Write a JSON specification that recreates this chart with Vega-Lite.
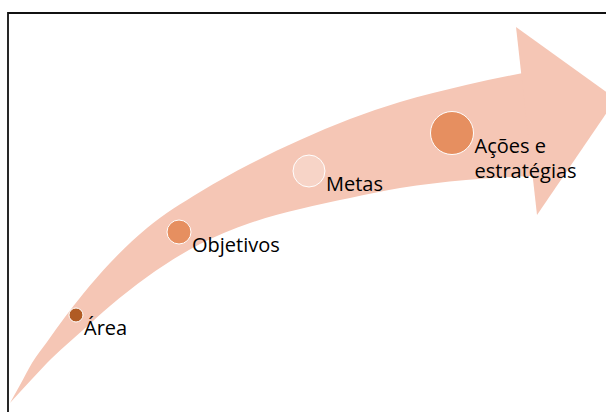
{
  "$schema": "https://vega.github.io/schema/vega-lite/v6.json",
  "autosize": {"type": "fit", "contains": "padding"},
  "width": 606,
  "height": 412,
  "padding": 0,
  "background": "white",
  "config": {"view": {"stroke": null}},
  "datasets": {
    "shaft": [
      {"x": 10, "upper": 403, "lower": 403},
      {"x": 20, "upper": 385, "lower": 392},
      {"x": 32, "upper": 363, "lower": 379},
      {"x": 47, "upper": 342, "lower": 363},
      {"x": 65, "upper": 317, "lower": 346},
      {"x": 83, "upper": 294, "lower": 330},
      {"x": 110, "upper": 263, "lower": 306},
      {"x": 147, "upper": 228, "lower": 277},
      {"x": 200, "upper": 192, "lower": 244},
      {"x": 250, "upper": 164, "lower": 223},
      {"x": 300, "upper": 140, "lower": 209},
      {"x": 350, "upper": 119, "lower": 198},
      {"x": 400, "upper": 102, "lower": 188},
      {"x": 466, "upper": 85, "lower": 180},
      {"x": 533, "upper": 71, "lower": 176}
    ],
    "head": [
      {"i": 1, "x": 516, "y": 27},
      {"i": 2, "x": 616, "y": 99},
      {"i": 3, "x": 537, "y": 215}
    ],
    "frame": [{"x1": 8, "y1": 13, "x2": 640, "y2": 440}],
    "stages": [
      {"stage": "Área", "label": "Área", "x": 76, "y": 315, "d": 14},
      {"stage": "Objetivos", "label": "Objetivos", "x": 179, "y": 232, "d": 24},
      {"stage": "Metas", "label": "Metas", "x": 309, "y": 171, "d": 32},
      {"stage": "Ações e estratégias", "label": "Ações e\nestratégias", "x": 452, "y": 133, "d": 43}
    ]
  },
  "layer": [
    {
      "data": {"name": "shaft"},
      "mark": {"type": "area", "color": "#F5C6B5", "opacity": 1, "interpolate": "monotone", "clip": true},
      "encoding": {
        "x": {"field": "x", "type": "quantitative", "scale": {"domain": [0, 606], "nice": false, "zero": false}, "axis": null},
        "y": {"field": "upper", "type": "quantitative", "scale": {"domain": [0, 412], "nice": false, "zero": false, "reverse": true}, "axis": null},
        "y2": {"field": "lower"}
      }
    },
    {
      "data": {"name": "head"},
      "mark": {"type": "line", "fill": "#F5C6B5", "stroke": null, "strokeWidth": 0, "clip": true, "interpolate": "linear"},
      "encoding": {
        "x": {"field": "x", "type": "quantitative"},
        "y": {"field": "y", "type": "quantitative"},
        "order": {"field": "i", "type": "quantitative"}
      }
    },
    {
      "data": {"name": "frame"},
      "mark": {"type": "rect", "fill": null, "stroke": "#111111", "strokeWidth": 1.8, "clip": true},
      "encoding": {
        "x": {"field": "x1", "type": "quantitative"},
        "x2": {"field": "x2"},
        "y": {"field": "y1", "type": "quantitative"},
        "y2": {"field": "y2"}
      }
    },
    {
      "data": {"name": "stages"},
      "mark": {"type": "point", "shape": "circle", "filled": true, "opacity": 1, "stroke": "white", "strokeWidth": 1},
      "encoding": {
        "x": {"field": "x", "type": "quantitative"},
        "y": {"field": "y", "type": "quantitative"},
        "size": {"field": "d", "type": "quantitative", "scale": {"type": "pow", "exponent": 2, "domain": [0, 50], "range": [0, 2500]}, "legend": null},
        "color": {"field": "stage", "type": "nominal", "scale": {"domain": ["Área", "Objetivos", "Metas", "Ações e estratégias"], "range": ["#B05B24", "#E68F60", "#F7D4C7", "#E68F60"]}, "legend": null}
      }
    },
    {
      "data": {"name": "stages"},
      "mark": {"type": "text", "align": "left", "baseline": "alphabetic", "font": "Open Sans", "fontSize": 20, "color": "#000000", "lineBreak": "\n", "lineHeight": 25, "dx": {"expr": "datum.d / 2 + 1"}, "dy": 20},
      "encoding": {
        "x": {"field": "x", "type": "quantitative"},
        "y": {"field": "y", "type": "quantitative"},
        "text": {"field": "label", "type": "nominal"}
      }
    }
  ]
}
